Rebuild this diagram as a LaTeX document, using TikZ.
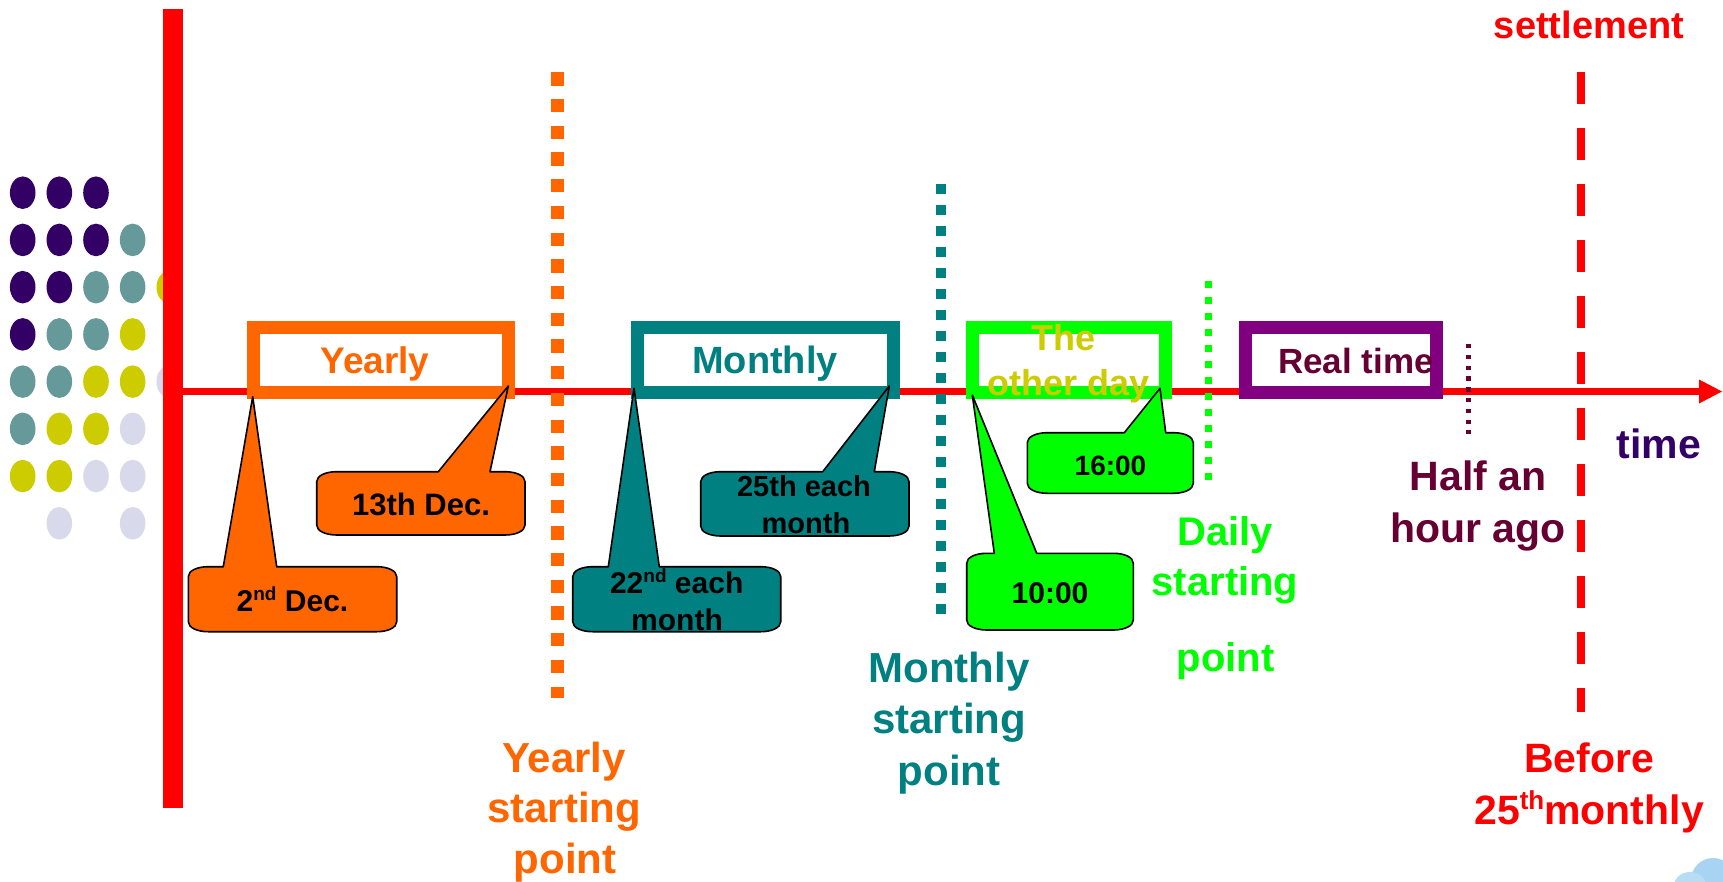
\documentclass[tikz,border=0pt]{standalone}
\usepackage{fontspec}
\setmainfont{Liberation Sans}
\definecolor{cOrange}{HTML}{FF6600}
\definecolor{cTeal}{HTML}{008080}
\definecolor{cGreen}{HTML}{00FF00}
\definecolor{cPurple}{HTML}{800080}
\definecolor{cMaroon}{HTML}{660033}
\definecolor{cOlive}{HTML}{CCCC00}
\definecolor{cInk}{HTML}{330066}
\definecolor{dotP}{HTML}{330066}
\definecolor{dotT}{HTML}{669999}
\definecolor{dotY}{HTML}{CCCC00}
\definecolor{dotL}{HTML}{D9D9EC}
\definecolor{cSky}{HTML}{A8D3F2}
\newcommand\fsz[1]{\fontsize{#1}{#1}\selectfont}
\newcommand\supr[3]{\raisebox{#1pt}{\fsz{#2}#3}}
% speech bubble: fill, left, top, right, bottom, wedge base left/right, wedge tip x/y
\newcommand\bubble[9]{%
  \draw[bubble, fill=#1] (#6,#3) -- (#8,#9) -- (#7,#3) -- ({#4-20},#3)
    .. controls ({#4-9},#3) and (#4,{#3+4}) .. (#4,{#3+10})
    -- (#4,{#5-10})
    .. controls (#4,{#5-4}) and ({#4-9},#5) .. ({#4-20},#5)
    -- ({#2+20},#5)
    .. controls ({#2+9},#5) and (#2,{#5-4}) .. (#2,{#5-10})
    -- (#2,{#3+10})
    .. controls (#2,{#3+4}) and ({#2+9},#3) .. ({#2+20},#3) -- cycle;}
\begin{document}
\begin{tikzpicture}[x=1pt,y=-1pt,
  txt/.style={font=\bfseries, inner sep=0pt, anchor=base},
  periodbox/.style={line width=13pt, fill=white, inner sep=0pt, minimum height=64pt},
  bubble/.style={draw=black, line width=1.6pt, line join=round},
  marker/.style={line cap=butt},
]
\useasboundingbox (0,0) rectangle (1723,882);
\fill[white] (0,0) rectangle (1723,882);
\clip (0,0) rectangle (1723,882);

% decorative dot grid
\foreach \c/\r/\col in {
  1/1/dotP,2/1/dotP,3/1/dotP,
  1/2/dotP,2/2/dotP,3/2/dotP,4/2/dotT,
  1/3/dotP,2/3/dotP,3/3/dotT,4/3/dotT,5/3/dotY,
  1/4/dotP,2/4/dotT,3/4/dotT,4/4/dotY,
  1/5/dotT,2/5/dotT,3/5/dotY,4/5/dotY,5/5/dotL,
  1/6/dotT,2/6/dotY,3/6/dotY,4/6/dotL,
  1/7/dotY,2/7/dotY,3/7/dotL,4/7/dotL,
  2/8/dotL,4/8/dotL}
  \fill[\col] ({22.7+36.65*(\c-1)},{192.7+47.23*(\r-1)}) ellipse [x radius=12.8, y radius=16.3];

% corner ornament
\fill[cSky] (1713,880) ellipse [x radius=22, y radius=22];
\fill[cSky!80!white] (1690,886) ellipse [x radius=16, y radius=14];

% time axis
\coordinate (axisL) at (182,391.5);
\coordinate (axisR) at (1702,391.5);
\draw[red, line width=7pt] (axisL) -- (axisR);
\fill[red] (1699,379.5) -- (1722,391.5) -- (1699,403.5) -- cycle;

% vertical origin bar
\coordinate (barT) at (173,8.8);
\coordinate (barB) at (173,807.7);
\draw[red, line width=19.4pt, marker] (barT) -- (barB);

% starting-point markers
\coordinate (yT) at (557.3,72.4);   \coordinate (yB) at (557.3,698.3);
\draw[cOrange, line width=13.3pt, marker, dash pattern=on 13.3pt off 13.4pt] (yT) -- (yB);
\coordinate (mT) at (940.8,184);    \coordinate (mB) at (940.8,615);
\draw[cTeal, line width=10.3pt, marker, dash pattern=on 10.3pt off 10.7pt] (mT) -- (mB);
\coordinate (dT) at (1208.7,280.7); \coordinate (dB) at (1208.7,480);
\draw[cGreen, line width=7.3pt, marker, dash pattern=on 7.3pt off 8.7pt] (dT) -- (dB);
\coordinate (hT) at (1468.7,344);   \coordinate (hB) at (1468.7,434);
\draw[cMaroon, line width=5.3pt, marker, dash pattern=on 4.4pt off 6.4pt] (hT) -- (hB);
\coordinate (sT) at (1580.8,71.7);  \coordinate (sB) at (1580.8,711.5);
\draw[red, line width=8.3pt, marker, dash pattern=on 32.3pt off 23.7pt] (sT) -- (sB);

% period boxes
\node[periodbox, draw=cOrange, minimum width=255.7pt] (yearbox) at (380.85,360) {};
\node[periodbox, draw=cTeal, minimum width=256pt] (monthbox) at (765,360) {};
\node[periodbox, draw=cGreen, minimum width=192.3pt] (daybox) at (1068.85,360) {};
\node[periodbox, draw=cPurple, minimum width=191.7pt] (realbox) at (1340.85,360) {};

\node[txt, text=cOrange, font=\bfseries\fsz{37}] (yearly) at (375,373.3) {Yearly};
\node[txt, text=cTeal, font=\bfseries\fsz{38}] (monthly) at (765,373.3) {Monthly};
\node[txt, text=cOlive, font=\bfseries\fsz{36}] (other1) at (1063,350) {The};
\node[txt, text=cOlive, font=\bfseries\fsz{36}] (other2) at (1069,395) {other day};
\node[txt, text=cMaroon, font=\bfseries\fsz{35}] (realtime) at (1356,373.3) {Real time};

% date bubbles
\bubble{cOrange}{188.3}{566.7}{396.7}{631.7}{223.3}{276.7}{252.7}{396.7}
\bubble{cOrange}{316.7}{471.7}{525}{535}{438.3}{490}{508.3}{386}
\bubble{cTeal}{572.7}{566.7}{780.7}{631.7}{608.3}{659.3}{634}{388.3}
\bubble{cTeal}{700.7}{471.7}{909}{536}{822.7}{874.3}{889.3}{386}
\bubble{cGreen}{1027.3}{432.7}{1193.3}{493.3}{1124.3}{1165.7}{1160}{388.3}
\bubble{cGreen}{966.7}{553.3}{1133.3}{630}{994.3}{1036.7}{972.3}{395}

\node[txt, font=\bfseries\fsz{30}] (dec2) at (292.5,611.7) {2\supr{11}{19}{nd} Dec.};
\node[txt, font=\bfseries\fsz{31}] (dec13) at (421,515) {13th Dec.};
\node[txt, font=\bfseries\fsz{30}] (m22a) at (676.7,593.3) {22\supr{11}{19}{nd} each};
\node[txt, font=\bfseries\fsz{30}] (m22b) at (677,630) {month};
\node[txt, font=\bfseries\fsz{29}] (m25a) at (804,496.7) {25th each};
\node[txt, font=\bfseries\fsz{29}] (m25b) at (806,533.3) {month};
\node[txt, font=\bfseries\fsz{28}] (t16) at (1110.5,475) {16:00};
\node[txt, font=\bfseries\fsz{30}] (t10) at (1050,603.3) {10:00};

% marker captions
\node[txt, text=cOrange, font=\bfseries\fsz{42}] (ys1) at (564,772.7) {Yearly};
\node[txt, text=cOrange, font=\bfseries\fsz{42}] (ys2) at (564,822.7) {starting};
\node[txt, text=cOrange, font=\bfseries\fsz{42}] (ys3) at (565,873.3) {point};

\node[txt, text=cTeal, font=\bfseries\fsz{42}] (ms1) at (949,682.7) {Monthly};
\node[txt, text=cTeal, font=\bfseries\fsz{42}] (ms2) at (949,733.3) {starting};
\node[txt, text=cTeal, font=\bfseries\fsz{42}] (ms3) at (949,785) {point};

\node[txt, text=cGreen, font=\bfseries\fsz{40}] (ds1) at (1225,545) {Daily};
\node[txt, text=cGreen, font=\bfseries\fsz{40}] (ds2) at (1225,595) {starting};
\node[txt, text=cGreen, font=\bfseries\fsz{40}] (ds3) at (1225.8,671.7) {point};

\node[txt, text=cMaroon, font=\bfseries\fsz{41}] (half1) at (1478,490.4) {Half an};
\node[txt, text=cMaroon, font=\bfseries\fsz{41}] (half2) at (1478,542.7) {hour ago};

\node[txt, text=cInk, font=\bfseries\fsz{41}] (timelbl) at (1659,458.4) {time};

\node[txt, text=red, font=\bfseries\fsz{38}] (settle) at (1589,38.2) {settlement};
\node[txt, text=red, font=\bfseries\fsz{41}] (before1) at (1589,772.2) {Before};
\node[txt, text=red, font=\bfseries\fsz{41}] (before2) at (1589,824) {25\supr{15}{26}{th}monthly};
\end{tikzpicture}
\end{document}
